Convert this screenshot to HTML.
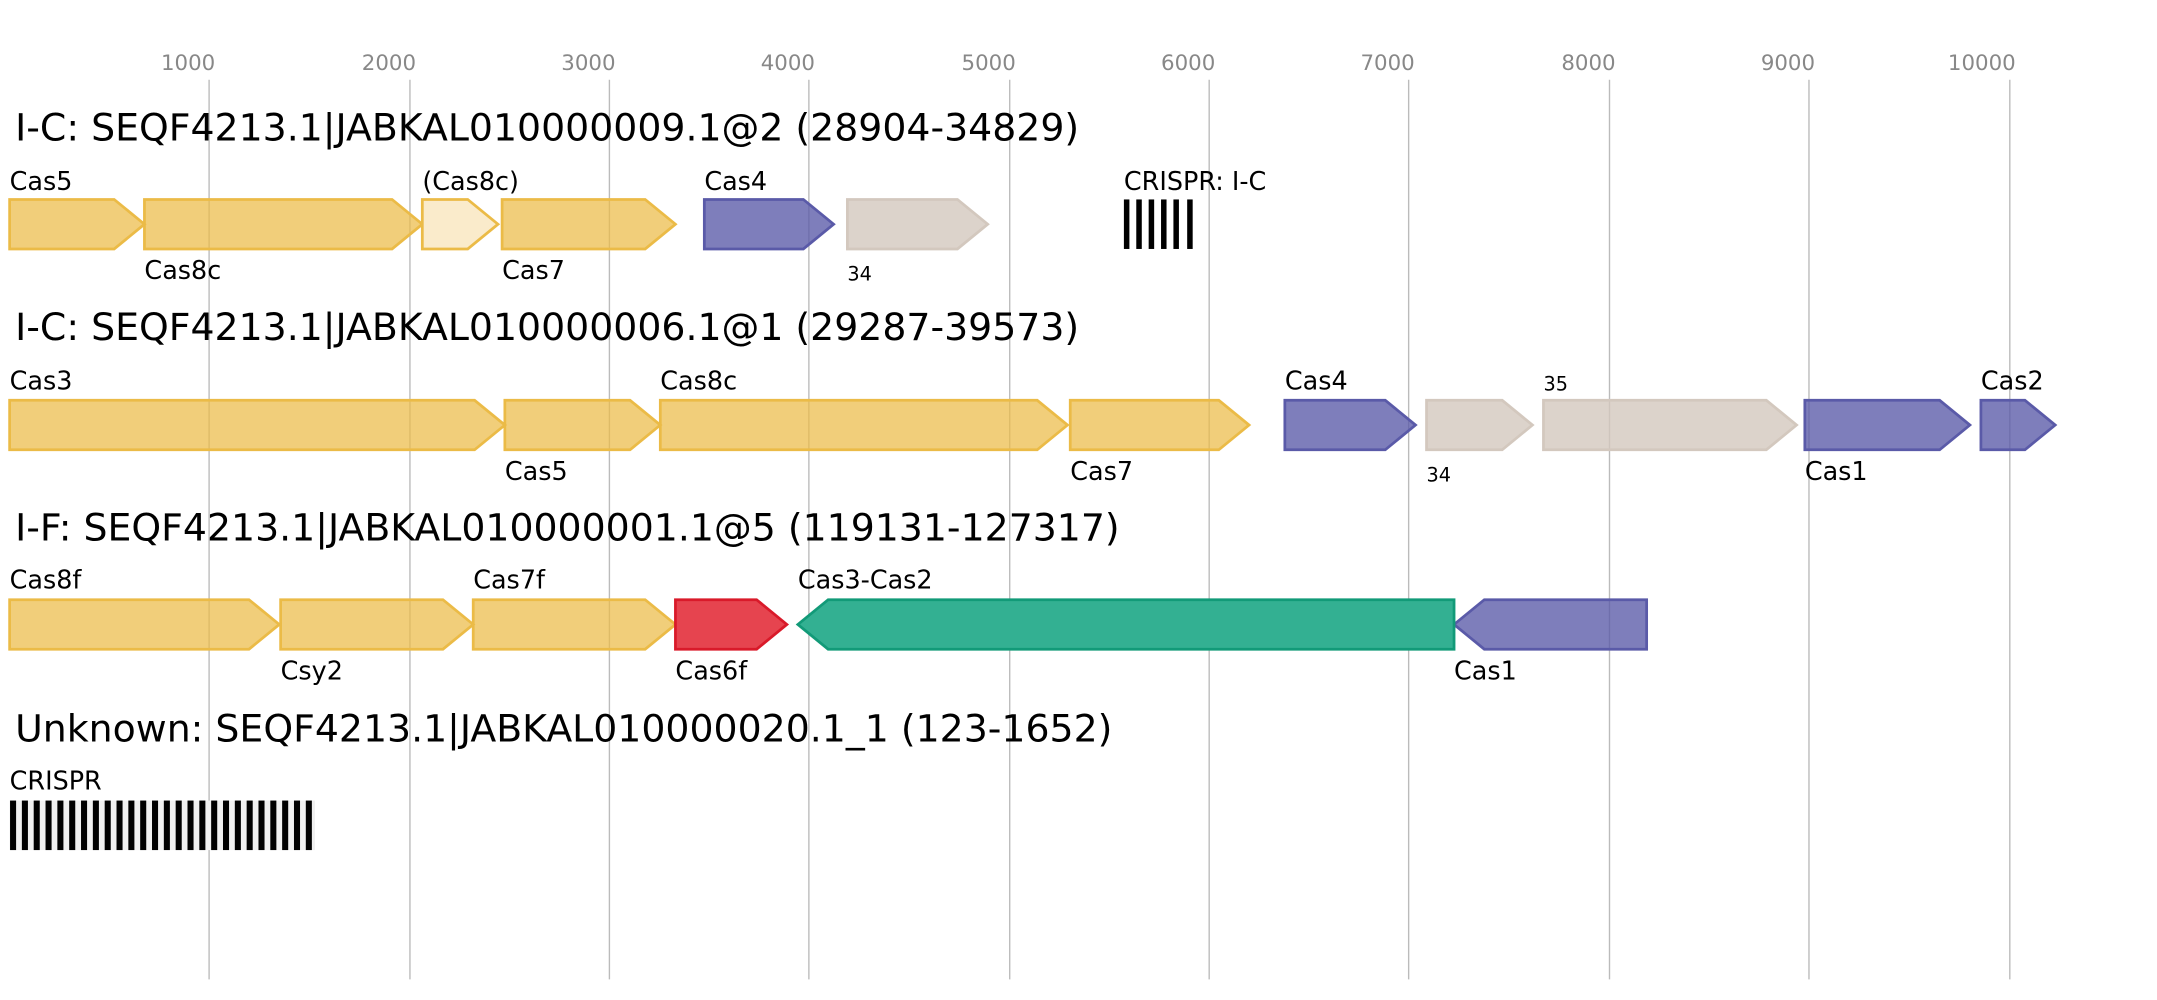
<!DOCTYPE html>
<html><head><meta charset="utf-8"><style>html,body{margin:0;padding:0;background:#fff}svg{display:block}text{font-family:"DejaVu Sans","Liberation Sans",sans-serif}</style></head>
<body>
<svg width="2157" height="1000" viewBox="0 0 1568 727" preserveAspectRatio="none" xmlns="http://www.w3.org/2000/svg">
<g fill="#888" font-size="15.5">
<text x="117" y="51">1000</text><text x="263" y="51">2000</text><text x="408" y="51">3000</text><text x="553" y="51">4000</text><text x="699" y="51">5000</text><text x="844" y="51">6000</text><text x="989" y="51">7000</text><text x="1135" y="51">8000</text><text x="1280" y="51">9000</text><text x="1416" y="51">10000</text>
</g>
<g stroke="#bbb" stroke-width="1">
<line x1="152" y1="58" x2="152" y2="712"/><line x1="298" y1="58" x2="298" y2="712"/><line x1="443" y1="58" x2="443" y2="712"/><line x1="588" y1="58" x2="588" y2="712"/><line x1="734" y1="58" x2="734" y2="712"/><line x1="879" y1="58" x2="879" y2="712"/><line x1="1024" y1="58" x2="1024" y2="712"/><line x1="1170" y1="58" x2="1170" y2="712"/><line x1="1315" y1="58" x2="1315" y2="712"/><line x1="1461" y1="58" x2="1461" y2="712"/>
</g>
<g font-size="27.5" fill="#000">
<text x="11" y="102">I-C: SEQF4213.1|JABKAL010000009.1@2 (28904-34829)</text>
<text x="11" y="247">I-C: SEQF4213.1|JABKAL010000006.1@1 (29287-39573)</text>
<text x="11" y="393">I-F: SEQF4213.1|JABKAL010000001.1@5 (119131-127317)</text>
<text x="11" y="539">Unknown: SEQF4213.1|JABKAL010000020.1_1 (123-1652)</text>
</g>
<g stroke-width="2">
<g fill="#ebbb47" fill-opacity="0.72" stroke="#ebbb47">
<polygon points="7,145 83,145 105,163 83,181 7,181"/>
<polygon points="105,145 285,145 307,163 285,181 105,181"/>
<polygon points="365,145 469,145 491,163 469,181 365,181"/>
<polygon points="7,291 345,291 367,309 345,327 7,327"/>
<polygon points="367,291 458,291 480,309 458,327 367,327"/>
<polygon points="480,291 754,291 776,309 754,327 480,327"/>
<polygon points="778,291 886,291 908,309 886,327 778,327"/>
<polygon points="7,436 181,436 203,454 181,472 7,472"/>
<polygon points="204,436 322,436 344,454 322,472 204,472"/>
<polygon points="344,436 469,436 491,454 469,472 344,472"/>
</g>
<polygon points="307,145 340,145 362,163 340,181 307,181" fill="#faebcb" stroke="#ebbb47"/>
<g fill="#5a5aa8" fill-opacity="0.78" stroke="#5a5aa8">
<polygon points="512,145 584,145 606,163 584,181 512,181"/>
<polygon points="934,291 1007,291 1029,309 1007,327 934,327"/>
<polygon points="1312,291 1410,291 1432,309 1410,327 1312,327"/>
<polygon points="1440,291 1472,291 1494,309 1472,327 1440,327"/>
<polygon points="1197,436 1079,436 1057,454 1079,472 1197,472"/>
</g>
<g fill="#d3c8be" fill-opacity="0.8" stroke="#d3c8be">
<polygon points="616,145 696,145 718,163 696,181 616,181"/>
<polygon points="1037,291 1092,291 1114,309 1092,327 1037,327"/>
<polygon points="1122,291 1284,291 1306,309 1284,327 1122,327"/>
</g>
<polygon points="491,436 550,436 572,454 550,472 491,472" fill="#e6444f" stroke="#d91a2a"/>
<polygon points="1057,436 602,436 580,454 602,472 1057,472" fill="#33b092" stroke="#129a78"/>
</g>
<g fill="#000">
<rect x="817" y="145" width="4" height="36"/><rect x="826" y="145" width="4" height="36"/><rect x="835" y="145" width="4" height="36"/><rect x="844" y="145" width="4" height="36"/><rect x="853" y="145" width="4" height="36"/><rect x="863" y="145" width="4" height="36"/>
</g>
<rect x="7" y="582" width="222" height="36" fill="#f0f0f0"/>
<g fill="#000">
<rect x="7.3" y="582" width="4.4" height="36"/><rect x="15.9" y="582" width="4.4" height="36"/><rect x="24.5" y="582" width="4.4" height="36"/><rect x="33.1" y="582" width="4.4" height="36"/><rect x="41.7" y="582" width="4.4" height="36"/><rect x="50.3" y="582" width="4.4" height="36"/><rect x="58.9" y="582" width="4.4" height="36"/><rect x="67.5" y="582" width="4.4" height="36"/><rect x="76.1" y="582" width="4.4" height="36"/><rect x="84.7" y="582" width="4.4" height="36"/><rect x="93.3" y="582" width="4.4" height="36"/><rect x="101.9" y="582" width="4.4" height="36"/><rect x="110.5" y="582" width="4.4" height="36"/><rect x="119.1" y="582" width="4.4" height="36"/><rect x="127.7" y="582" width="4.4" height="36"/><rect x="136.3" y="582" width="4.4" height="36"/><rect x="144.9" y="582" width="4.4" height="36"/><rect x="153.5" y="582" width="4.4" height="36"/><rect x="162.1" y="582" width="4.4" height="36"/><rect x="170.7" y="582" width="4.4" height="36"/><rect x="179.3" y="582" width="4.4" height="36"/><rect x="187.9" y="582" width="4.4" height="36"/><rect x="196.5" y="582" width="4.4" height="36"/><rect x="205.1" y="582" width="4.4" height="36"/><rect x="213.7" y="582" width="4.4" height="36"/><rect x="222.3" y="582" width="4.4" height="36"/>
</g>
<g font-size="18.5" fill="#000">
<text x="7" y="138">Cas5</text><text x="105" y="203">Cas8c</text><text x="307" y="138">(Cas8c)</text><text x="365" y="203">Cas7</text><text x="512" y="138">Cas4</text><text x="616" y="204" font-size="14">34</text><text x="817" y="138">CRISPR: I-C</text>
<text x="7" y="283">Cas3</text><text x="367" y="349">Cas5</text><text x="480" y="283">Cas8c</text><text x="778" y="349">Cas7</text><text x="934" y="283">Cas4</text><text x="1037" y="350" font-size="14">34</text><text x="1122" y="284" font-size="14">35</text><text x="1312" y="349">Cas1</text><text x="1440" y="283">Cas2</text>
<text x="7" y="428">Cas8f</text><text x="204" y="494">Csy2</text><text x="344" y="428">Cas7f</text><text x="491" y="494">Cas6f</text><text x="580" y="428">Cas3-Cas2</text><text x="1057" y="494">Cas1</text>
<text x="7" y="574">CRISPR</text>
</g>
</svg>
</body></html>
